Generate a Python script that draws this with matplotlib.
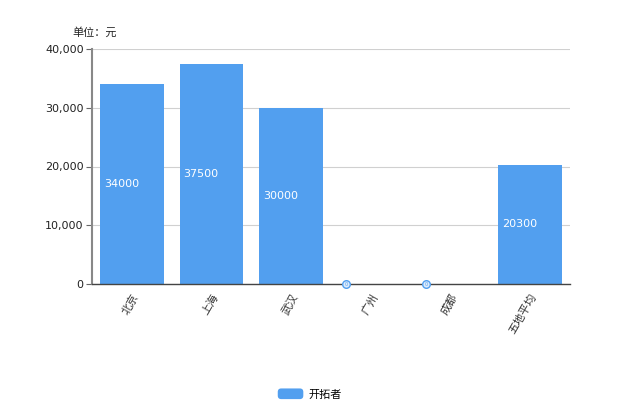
import matplotlib
matplotlib.use("Agg")
import matplotlib.pyplot as plt
from matplotlib.ticker import FuncFormatter
from matplotlib.patches import FancyBboxPatch
from matplotlib.legend_handler import HandlerPatch

plt.rcParams['font.family'] = ['DejaVu Sans', 'Noto Sans CJK SC']

# data
cities = ["北京", "上海", "武汉", "广州", "成都", "五地平均"]
salary = [34000, 37500, 30000, 0, 0, 20300]
series_name = "开拓者"
unit_label = "单位：元"

BLUE = "#529FEF"

fig = plt.figure(figsize=(6.2, 4.13), dpi=100)
ax = fig.add_axes([92 / 620, 1 - 284 / 413, 478 / 620, 235 / 413])

x = list(range(len(cities)))
bars = ax.bar(x, salary, width=0.8, color=BLUE, label=series_name, zorder=2)

# value labels inside the bars, zeros shown as small markers
for xi, v in zip(x, salary):
    if v > 0:
        ax.text(xi - 0.35, v / 2, str(v), color="white", fontsize=8,
                ha="left", va="center", zorder=3)
    else:
        ax.scatter([xi - 0.31], [0], s=30, facecolor="#dcebfc", edgecolor=BLUE,
                   linewidth=1, zorder=4, clip_on=False)
        ax.text(xi - 0.31, 0, "0", fontsize=3.5, color=BLUE, ha="center",
                va="center", zorder=5, clip_on=False)

ax.set_xlim(-0.5, len(cities) - 0.5)
ax.set_ylim(0, 40000)
ax.set_yticks([0, 10000, 20000, 30000, 40000])
ax.yaxis.set_major_formatter(FuncFormatter(lambda v, p: f"{int(v):,}"))
ax.grid(axis="y", color="#d0d0d0", linewidth=0.8, zorder=0)
ax.set_axisbelow(True)

ax.set_xticks(x)
ax.set_xticklabels(cities, rotation=60, ha="right", rotation_mode="anchor",
                   fontsize=8, color="#333333", family=['Noto Sans CJK SC'])
ax.tick_params(axis="x", length=0, pad=6)
ax.tick_params(axis="y", length=4, color="#666666", labelsize=8,
               labelcolor="#222222", pad=2)

for s in ["top", "right"]:
    ax.spines[s].set_visible(False)
ax.spines["left"].set_color("#888888")
ax.spines["left"].set_linewidth(1.5)
ax.spines["bottom"].set_color("#444444")
ax.spines["bottom"].set_linewidth(1.0)

fig.text(72 / 620, 1 - 32 / 413, unit_label, fontsize=8, color="#222222",
         ha="left", va="center", family=['Noto Sans CJK SC'])


class RoundHandler(HandlerPatch):
    def create_artists(self, legend, orig_handle, xdescent, ydescent,
                       width, height, fontsize, trans):
        p = FancyBboxPatch((-xdescent, -ydescent), width, height,
                           boxstyle="round,pad=0,rounding_size=2.5",
                           facecolor=BLUE, edgecolor="none", transform=trans)
        return [p]


fig.legend(loc="center", bbox_to_anchor=(0.5, 1 - 394 / 413), frameon=False,
           prop={'family': ['Noto Sans CJK SC'], 'size': 8},
           handlelength=2.3, handleheight=1.1, handletextpad=0.5,
           handler_map={type(bars): RoundHandler()})

fig.savefig("out.png", dpi=100)
